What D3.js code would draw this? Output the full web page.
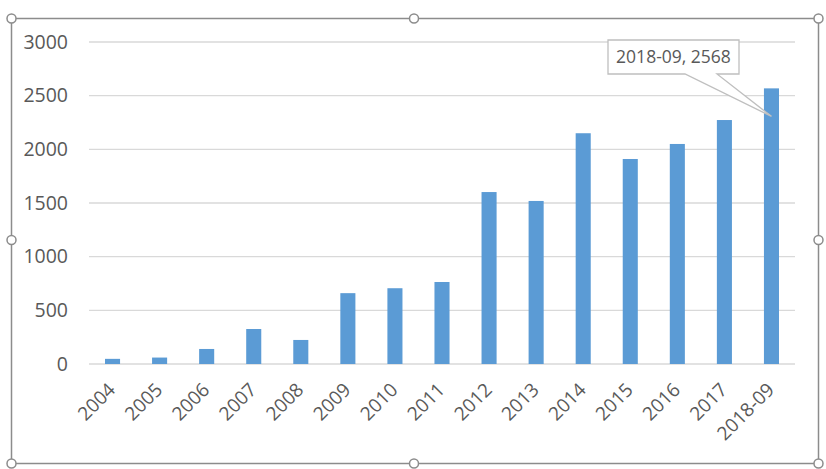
<!DOCTYPE html>
<html>
<head>
<meta charset="utf-8">
<script src="https://cdn.jsdelivr.net/npm/d3@7"></script>
<style>
  body { margin: 0; background: #fff; }
  text { font-family: "Open Sans", "Noto Sans", sans-serif; fill: #595959; }
</style>
</head>
<body>
<svg width="826" height="469"></svg>
<script>
// data
const categories = ['2004', '2005', '2006', '2007', '2008', '2009', '2010', '2011',
  '2012', '2013', '2014', '2015', '2016', '2017', '2018-09'];
const values = [48, 60, 140, 326, 224, 660, 706, 764, 1602, 1519, 2150, 1910, 2050, 2273, 2568];
const yTicks = [0, 500, 1000, 1500, 2000, 2500, 3000];
const calloutIndex = 14;

const svg = d3.select('svg');
const width = +svg.attr('width');
const height = +svg.attr('height');

const margin = { top: 42, right: 31, bottom: 105, left: 89 };
const innerWidth = width - margin.left - margin.right;
const innerHeight = height - margin.top - margin.bottom;

const g = svg.append('g').attr('transform', `translate(${margin.left},${margin.top})`);

const xScale = d3.scaleBand()
  .domain(categories)
  .range([0, innerWidth])
  .paddingInner(0.68)
  .paddingOuter(0.34);

const yScale = d3.scaleLinear()
  .domain([0, 3000])
  .range([innerHeight, 0]);

// gridlines
g.append('g')
  .selectAll('line')
  .data(yTicks)
  .join('line')
  .attr('x1', 0)
  .attr('x2', innerWidth)
  .attr('y1', d => yScale(d))
  .attr('y2', d => yScale(d))
  .attr('stroke', '#d9d9d9')
  .attr('stroke-width', 1.3);

// y axis labels
const yAxis = g.append('g')
  .call(d3.axisLeft(yScale).tickValues(yTicks).tickFormat(d3.format('d')).tickSize(0).tickPadding(21));
yAxis.select('.domain').remove();
yAxis.selectAll('text')
  .attr('font-size', 19.5)
  .attr('fill', '#595959')
  .style('font-family', '"Open Sans", "Noto Sans", sans-serif');

// bars
g.append('g').selectAll('rect')
  .data(values)
  .join('rect')
  .attr('x', (d, i) => xScale(categories[i]))
  .attr('width', xScale.bandwidth())
  .attr('y', d => yScale(d))
  .attr('height', d => innerHeight - yScale(d))
  .attr('fill', '#5b9bd5');

// x axis labels, rotated
const xAxis = g.append('g')
  .attr('transform', `translate(0,${innerHeight})`)
  .call(d3.axisBottom(xScale).tickSize(0).tickPadding(0));
xAxis.select('.domain').remove();
xAxis.selectAll('text')
  .attr('font-size', 19)
  .attr('fill', '#595959')
  .style('font-family', '"Open Sans", "Noto Sans", sans-serif')
  .attr('text-anchor', 'end')
  .attr('dy', 0)
  .attr('y', 0)
  .attr('transform', 'translate(4,27) rotate(-45)');

// callout for last bar
const cx = xScale(categories[calloutIndex]) + xScale.bandwidth() / 2;
const cy = yScale(values[calloutIndex]) + 28;
const box = { x: 608 - margin.left, y: 40 - margin.top, w: 131, h: 34 };
const callout = g.append('g');
callout.append('path')
  .attr('d', `M${box.x},${box.y} H${box.x + box.w} V${box.y + box.h} H${box.x + 109}
    L${cx},${cy} L${box.x + 77},${box.y + box.h} H${box.x} Z`)
  .attr('fill', '#fff')
  .attr('stroke', '#bfbfbf')
  .attr('stroke-width', 1.3);
callout.append('text')
  .attr('x', box.x + box.w / 2)
  .attr('y', box.y + box.h / 2)
  .attr('dy', '0.35em')
  .attr('text-anchor', 'middle')
  .attr('font-size', 17.5)
  .text(`${categories[calloutIndex]}, ${values[calloutIndex]}`);

// selection frame with handles
const frame = { x0: 11.5, y0: 18.5, x1: 818.5, y1: 463.5 };
svg.append('rect')
  .attr('x', frame.x0)
  .attr('y', frame.y0)
  .attr('width', frame.x1 - frame.x0)
  .attr('height', frame.y1 - frame.y0)
  .attr('fill', 'none')
  .attr('stroke', '#8c8c8c')
  .attr('stroke-width', 1.5);

const xm = (frame.x0 + frame.x1) / 2 - 1;
const ym = (frame.y0 + frame.y1) / 2 - 1;
const handles = [
  [frame.x0, frame.y0], [xm, frame.y0], [frame.x1, frame.y0],
  [frame.x0, ym], [frame.x1, ym],
  [frame.x0, frame.y1], [xm, frame.y1], [frame.x1, frame.y1]
];
svg.append('g').selectAll('circle')
  .data(handles)
  .join('circle')
  .attr('cx', d => d[0])
  .attr('cy', d => d[1])
  .attr('r', 4.5)
  .attr('fill', '#fff')
  .attr('stroke', '#8c8c8c')
  .attr('stroke-width', 1.5);
</script>
</body>
</html>
